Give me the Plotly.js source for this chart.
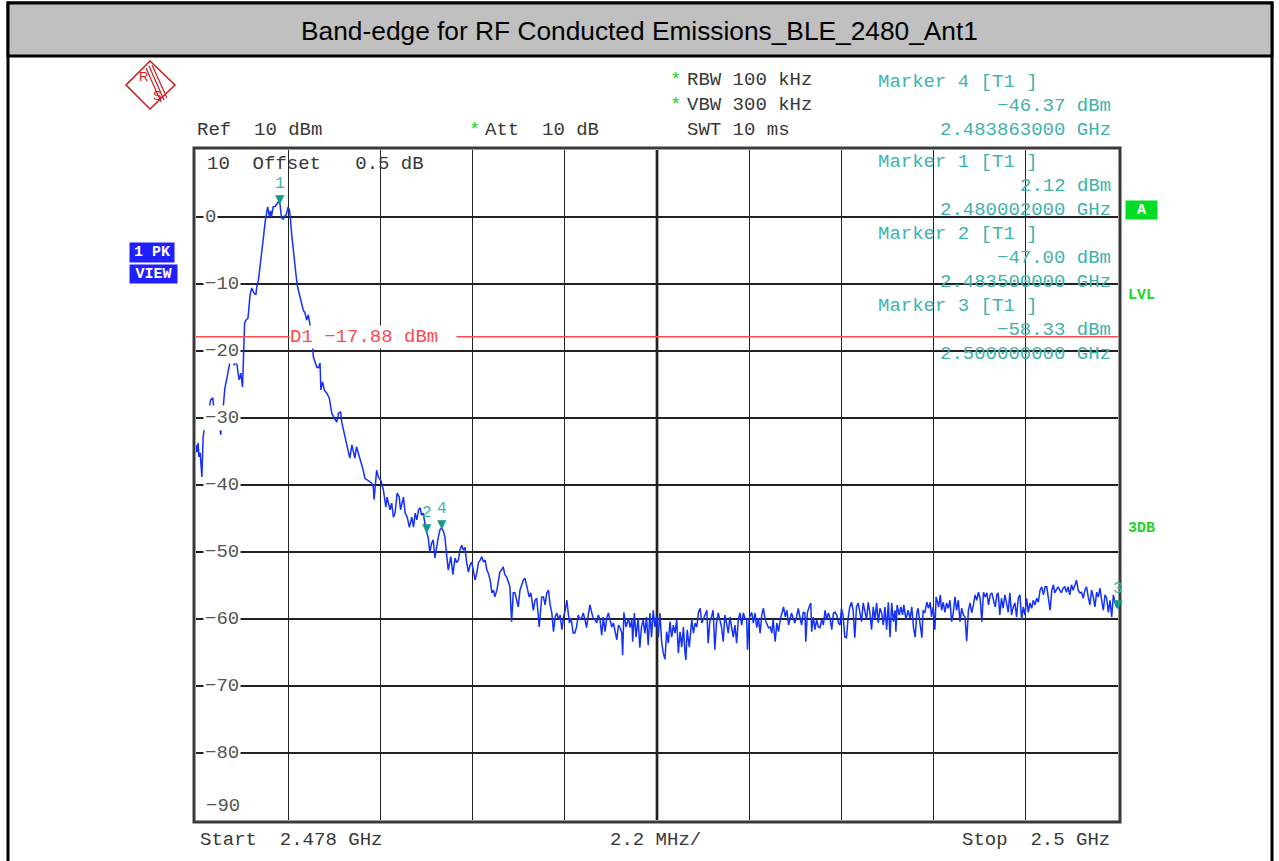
<!DOCTYPE html>
<html><head><meta charset="utf-8">
<script src="https://cdn.plot.ly/plotly-3.0.1.min.js"></script>
<style>html,body{margin:0;padding:0;background:#fff;overflow:hidden}#chart{width:1279px;height:861px}</style>
</head><body><div id="chart"></div>
<script>
// ---- trace data (frequency in MHz, level in dBm) ----
const freqMHz = [
2478.00,2478.02,2478.05,2478.07,2478.10,2478.14,2478.17,2478.24,2478.29,2478.35,2478.40,2478.43,2478.48,2478.52,2478.59,2478.64,2478.69,2478.73,2478.77,2478.80,2478.85,2478.91,2478.97,2479.00,2479.03,2479.07,2479.11,2479.16,2479.19,2479.24,2479.27,2479.29,2479.33,2479.35,2479.38,2479.43,2479.45,2479.49,2479.53,2479.55,2479.61,2479.65,2479.69,2479.71,2479.75,2479.78,2479.80,2479.84,2479.89,2479.92,2479.96,2480.00,
2480.04,2480.08,2480.11,2480.15,2480.20,2480.23,2480.25,2480.28,2480.32,2480.36,2480.40,2480.43,2480.48,2480.52,2480.56,2480.60,2480.64,2480.68,2480.72,2480.76,2480.80,2480.84,2480.88,2480.92,2480.96,2480.98,2481.02,2481.06,2481.12,2481.18,2481.24,2481.29,2481.36,2481.40,2481.45,2481.48,2481.53,2481.58,2481.63,2481.67,2481.72,2481.75,2481.79,2481.83,2481.90,2481.95,2481.99,2482.03,2482.11,2482.19,2482.23,2482.25,2482.31,2482.35,2482.41,2482.47,2482.53,2482.56,2482.63,2482.67,2482.71,2482.75,2482.80,2482.85,2482.88,2482.95,2482.99,2483.04,2483.09,2483.15,2483.19,2483.23,2483.27,2483.31,2483.35,2483.38,2483.42,2483.46,2483.50,
2483.54,2483.58,2483.62,2483.66,2483.70,2483.74,2483.77,2483.82,2483.86,2483.91,2483.94,2483.98,2484.02,2484.08,2484.13,2484.18,2484.22,2484.26,2484.30,2484.34,2484.38,2484.42,2484.45,2484.50,2484.54,2484.58,2484.62,2484.66,2484.70,2484.74,2484.78,2484.82,2484.86,2484.90,2484.94,2484.97,2485.02,2485.06,2485.10,2485.13,2485.18,2485.21,2485.25,2485.29,2485.33,2485.37,2485.41,2485.46,2485.49,2485.53,2485.57,2485.61,2485.65,2485.69,2485.73,2485.77,2485.81,2485.85,2485.89,2485.93,2485.95,2485.99,2486.05,2486.09,2486.13,2486.17,2486.19,2486.25,2486.29,2486.33,2486.37,2486.41,2486.45,2486.49,2486.53,2486.57,2486.61,2486.65,2486.69,2486.73,2486.77,2486.81,2486.85,2486.88,2486.91,2486.95,
2487.00,2487.04,2487.08,2487.12,2487.16,2487.21,2487.24,2487.28,2487.32,2487.36,2487.40,2487.44,2487.48,2487.52,2487.56,2487.60,2487.64,2487.68,2487.72,2487.76,2487.80,2487.84,2487.88,2487.92,2487.96,2488.00,2488.04,2488.08,2488.12,2488.16,2488.18,2488.21,2488.26,2488.32,2488.36,2488.40,2488.42,2488.46,2488.50,2488.55,2488.59,2488.63,2488.67,2488.71,2488.75,2488.79,2488.83,2488.87,2488.91,2488.95,2488.99,2489.03,2489.07,2489.11,2489.15,2489.19,2489.23,2489.27,2489.31,2489.35,2489.39,2489.43,2489.47,2489.51,2489.55,2489.59,2489.63,2489.67,2489.69,2489.72,2489.77,2489.83,2489.87,2489.91,2489.95,2489.99,
2490.03,2490.07,2490.10,2490.15,2490.19,2490.22,2490.26,2490.30,2490.34,2490.38,2490.42,2490.46,2490.50,2490.54,2490.58,2490.62,2490.66,2490.70,2490.74,2490.78,2490.82,2490.86,2490.90,2490.94,2490.98,2491.02,2491.06,2491.10,2491.14,2491.16,2491.20,2491.26,2491.30,2491.34,2491.38,2491.42,2491.46,2491.50,2491.54,2491.58,2491.62,2491.66,2491.70,2491.74,2491.77,2491.82,2491.86,2491.90,2491.94,2491.98,
2492.02,2492.06,2492.10,2492.14,2492.17,2492.21,2492.25,2492.29,2492.33,2492.37,2492.41,2492.45,2492.49,2492.53,2492.55,2492.59,2492.63,2492.67,2492.69,2492.73,2492.77,2492.81,2492.85,2492.89,2492.93,2492.97,2493.01,2493.05,2493.09,2493.13,2493.17,2493.21,2493.25,2493.29,2493.33,2493.37,2493.40,2493.44,2493.48,2493.52,2493.56,2493.60,2493.64,2493.68,2493.72,2493.76,2493.80,2493.84,2493.88,2493.92,2493.96,2494.00,2494.04,2494.08,2494.12,2494.16,2494.20,2494.24,2494.28,2494.32,2494.36,2494.40,2494.44,2494.48,2494.52,2494.56,2494.60,2494.64,2494.68,2494.70,2494.73,2494.78,2494.82,2494.86,2494.89,2494.94,2494.99,
2495.04,2495.08,2495.12,2495.16,2495.20,2495.23,2495.28,2495.32,2495.35,2495.39,2495.44,2495.48,2495.52,2495.55,2495.59,2495.63,2495.66,2495.72,2495.76,2495.79,2495.83,2495.87,2495.91,2495.95,2495.99,2496.03,2496.07,2496.11,2496.15,2496.19,2496.23,2496.27,2496.31,2496.35,2496.39,2496.43,2496.47,2496.51,2496.55,2496.59,2496.63,2496.67,2496.71,2496.75,2496.79,2496.83,2496.87,2496.91,2496.95,2496.99,
2497.03,2497.07,2497.11,2497.14,2497.18,2497.22,2497.26,2497.30,2497.34,2497.38,2497.42,2497.46,2497.50,2497.54,2497.58,2497.62,2497.66,2497.70,2497.74,2497.78,2497.82,2497.86,2497.90,2497.94,2497.98,2498.02,2498.06,2498.10,2498.14,2498.18,2498.22,2498.26,2498.30,2498.34,2498.38,2498.42,2498.46,2498.49,2498.53,2498.57,2498.61,2498.65,2498.69,2498.73,2498.77,2498.81,2498.85,2498.89,2498.93,2498.97,2499.01,2499.05,2499.09,2499.13,2499.17,2499.21,2499.25,2499.29,2499.33,2499.37,2499.41,2499.45,2499.49,2499.53,2499.57,2499.61,2499.65,2499.69,2499.73,2499.77,2499.81,2499.85,2499.89,2499.93,2499.97,2500.00
];
const levelDbm = [
-34.0,-35.1,-33.7,-35.8,-35.2,-38.8,-32.8,-30.0,-29.3,-27.3,-27.0,-28.8,-28.4,-29.3,-32.5,-29.3,-25.5,-24.3,-22.8,-21.6,-20.3,-22.1,-21.6,-23.1,-24.3,-23.3,-25.4,-15.8,-15.4,-15.1,-12.8,-11.6,-10.6,-10.9,-11.3,-11.6,-10.4,-9.4,-6.9,-5.7,-3.0,-0.7,1.0,1.5,0.1,0.9,0.0,1.5,1.6,1.8,2.2,2.1,
-0.1,-0.3,0.1,0.3,1.5,1.0,0.0,-2.4,-4.9,-7.9,-9.4,-10.6,-11.8,-12.8,-13.9,-14.3,-15.4,-14.6,-16.1,-16.9,-20.9,-21.6,-22.4,-22.5,-21.8,-25.8,-24.6,-25.8,-26.3,-27.0,-29.3,-29.9,-30.6,-29.3,-29.1,-30.7,-32.1,-33.7,-34.8,-36.0,-34.0,-34.8,-36.0,-34.3,-35.8,-36.6,-37.8,-39.0,-39.3,-39.7,-40.3,-42.2,-37.8,-38.8,-39.3,-40.7,-43.3,-41.8,-43.7,-42.7,-44.8,-44.2,-41.2,-41.8,-43.7,-41.8,-44.2,-44.8,-46.3,-44.8,-46.3,-44.2,-45.2,-43.7,-43.4,-44.5,-44.2,-46.0,-47.0,
-47.8,-50.1,-48.7,-48.2,-50.9,-49.0,-48.2,-46.7,-46.4,-47.0,-47.8,-50.4,-52.7,-50.7,-53.4,-50.9,-51.6,-51.2,-49.7,-49.0,-49.7,-49.3,-51.2,-53.0,-51.9,-51.5,-53.0,-54.2,-53.1,-51.6,-51.2,-50.7,-51.5,-51.2,-52.7,-53.1,-54.2,-56.1,-55.7,-56.7,-55.7,-54.2,-53.0,-52.7,-52.2,-53.4,-53.7,-54.6,-55.2,-60.4,-56.1,-56.1,-57.2,-58.2,-55.7,-54.9,-54.2,-53.9,-54.9,-56.1,-56.7,-56.1,-58.7,-57.2,-56.9,-59.7,-61.2,-56.7,-56.7,-57.9,-56.1,-55.7,-57.9,-59.1,-61.9,-59.7,-59.1,-60.1,-59.4,-61.6,-59.7,-58.7,-57.2,-59.0,-60.6,-59.9,
-62.1,-62.1,-61.2,-59.4,-60.1,-59.7,-59.1,-60.1,-61.3,-59.4,-57.9,-59.0,-59.9,-60.1,-60.6,-59.4,-60.1,-62.4,-59.7,-61.9,-59.9,-59.1,-60.1,-61.2,-60.6,-61.9,-63.1,-60.9,-61.3,-62.1,-65.4,-59.0,-61.2,-59.9,-61.3,-60.1,-63.4,-59.1,-62.7,-59.9,-64.3,-61.2,-60.1,-62.1,-59.7,-63.9,-59.1,-62.7,-58.7,-61.2,-59.7,-62.7,-59.1,-63.4,-65.1,-66.0,-61.9,-63.6,-60.4,-62.7,-60.9,-62.1,-60.1,-65.1,-61.9,-64.2,-61.2,-65.1,-66.1,-61.6,-64.2,-60.1,-62.1,-60.6,-61.2,-59.0,
-58.4,-60.6,-60.1,-59.1,-58.7,-63.6,-60.4,-59.7,-58.7,-64.6,-60.6,-59.1,-60.4,-61.2,-63.4,-59.4,-60.6,-62.1,-59.7,-61.2,-62.7,-60.9,-63.6,-60.1,-59.1,-60.9,-59.1,-59.9,-60.1,-64.6,-59.9,-59.0,-60.6,-59.1,-61.3,-59.9,-62.1,-59.4,-58.4,-60.1,-60.6,-61.3,-61.2,-62.1,-60.1,-63.4,-60.6,-61.9,-60.1,-59.1,
-58.2,-59.7,-58.7,-60.9,-60.1,-59.1,-59.9,-60.6,-59.7,-58.4,-59.7,-60.9,-59.0,-59.1,-63.4,-59.0,-58.2,-57.6,-61.9,-59.7,-61.6,-60.1,-61.2,-61.3,-60.1,-60.9,-58.7,-60.1,-59.1,-59.9,-61.6,-59.1,-59.0,-59.4,-60.6,-60.9,-58.4,-59.4,-62.7,-62.8,-59.9,-58.2,-57.5,-58.7,-62.8,-58.2,-57.6,-59.4,-60.4,-57.6,-58.7,-60.1,-57.5,-59.1,-61.6,-58.2,-60.1,-57.6,-60.6,-58.4,-59.1,-60.9,-58.2,-61.6,-57.5,-62.7,-57.6,-60.4,-58.7,-61.9,-57.9,-59.4,-58.2,-59.4,-57.9,-60.1,-58.7,
-59.9,-58.2,-61.3,-62.7,-59.1,-58.4,-61.2,-62.8,-58.7,-59.1,-57.5,-58.4,-57.5,-59.7,-58.2,-61.6,-56.7,-58.2,-56.4,-58.7,-57.5,-59.0,-57.6,-58.4,-57.2,-60.4,-59.1,-56.7,-58.7,-57.2,-60.4,-58.4,-59.4,-59.7,-63.3,-58.7,-57.6,-59.1,-57.9,-56.4,-57.2,-56.0,-56.9,-60.4,-56.0,-56.7,-56.1,-57.9,-56.4,-56.1,
-57.2,-58.2,-56.4,-56.1,-59.4,-56.9,-58.4,-56.4,-57.6,-59.0,-56.1,-59.4,-58.2,-57.6,-59.7,-56.9,-56.4,-60.1,-58.2,-59.4,-56.9,-59.0,-57.6,-58.4,-57.2,-57.9,-56.9,-57.5,-55.7,-55.2,-56.4,-55.2,-55.2,-56.9,-58.7,-55.7,-54.9,-56.1,-55.7,-55.2,-55.7,-56.1,-55.4,-55.2,-56.0,-55.2,-56.4,-54.9,-55.7,-54.9,-54.2,-55.7,-56.1,-56.0,-56.9,-55.7,-55.2,-56.7,-57.9,-55.7,-56.7,-58.2,-56.0,-56.7,-55.4,-57.2,-58.7,-56.4,-56.9,-59.0,-57.2,-59.7,-56.4,-57.6,-58.2,-58.3
];

// ---- axes / scale ----
const startMHz = 2478, stopMHz = 2500, spanPerDivMHz = 2.2;
const refLevel = 10, bottomLevel = -90, dbPerDiv = 10;
const yTickVals = [0, -10, -20, -30, -40, -50, -60, -70, -80];
const yTickText = ['0', '−10', '−20', '−30', '−40', '−50', '−60', '−70', '−80'];

// ---- markers ----
const markerIds = ['4', '1', '2', '3'];
const markerFreqMHz = [2483.863, 2480.002, 2483.5, 2500.0];
const markerLevel = [-46.37, 2.12, -47.00, -58.33];
const displayLineD1 = -17.88;

// ---- page geometry helpers (page px -> paper) ----
const L = 196, T = 150, W = 922, H = 670;
const px = x => (x - L) / W;
const py = y => (T + H - y) / H;
const MONO = 'Liberation Mono, Courier New, monospace';
const NB = '\u00a0';
const sp = s => s.replace(/ /g, NB);
const TEAL = '#3fb3ab';
const GREEN = '#1ed41e';
const RED_LOGO = '#cc1818';

function txt(x, y, text, o) {
  o = o || {};
  return {xref: 'paper', yref: 'paper', x: px(x), y: py(y), text: sp(text), showarrow: false,
    xanchor: o.anchor || 'left', yanchor: 'middle', borderpad: 0,
    font: {family: o.family || MONO, size: o.size || 19, color: o.color || '#383838'}};
}
function box(cx, cy, w, h, text, bg) {
  return {xref: 'paper', yref: 'paper', x: px(cx), y: py(cy), xanchor: 'center', yanchor: 'middle',
    text: '<b>' + sp(text) + '</b>', showarrow: false, width: w, height: h, bgcolor: bg, borderpad: 0,
    font: {family: MONO, size: 15, color: '#fff'}};
}

const ann = [];
// header
ann.push(txt(675, 80, '*', {anchor: 'center', color: GREEN}));
ann.push(txt(686, 80, 'RBW 100 kHz'));
ann.push(txt(675, 105, '*', {anchor: 'center', color: GREEN}));
ann.push(txt(686, 105, 'VBW 300 kHz'));
ann.push(txt(196, 130, 'Ref  ' + refLevel + ' dBm'));
ann.push(txt(474, 130, '*', {anchor: 'center', color: GREEN}));
ann.push(txt(484, 130, 'Att  10 dB'));
ann.push(txt(686, 130, 'SWT 10 ms'));
ann.push(txt(206, 164, refLevel + '  Offset   0.5 dB'));
// marker info blocks
const infoTop = [82, 162, 234, 306];
markerIds.forEach((id, i) => {
  const y0 = infoTop[i];
  ann.push(txt(877, y0, 'Marker ' + id + ' [T1 ]', {color: TEAL}));
  ann.push(txt(1112, y0 + 24, markerLevel[i].toFixed(2).replace('-', '−') + ' dBm', {color: TEAL, anchor: 'right'}));
  ann.push(txt(1112, y0 + 48, (markerFreqMHz[i] / 1000).toFixed(9) + ' GHz', {color: TEAL, anchor: 'right'}));
});
// y tick labels with white background (break the grid line)
yTickVals.forEach((v, i) => {
  ann.push({xref: 'paper', yref: 'y', x: px(203), y: v, text: yTickText[i], showarrow: false,
    xanchor: 'left', yanchor: 'middle', bgcolor: '#ffffff', borderpad: 1,
    font: {family: MONO, size: 19, color: '#555'}});
});
ann.push(txt(205, 806, '−90', {color: '#555'}));
// bottom labels
ann.push(txt(199, 840, 'Start  ' + (startMHz / 1000).toFixed(3) + ' GHz'));
ann.push(txt(609, 840, spanPerDivMHz + ' MHz/'));
ann.push(txt(1111, 840, 'Stop  ' + (stopMHz / 1000).toFixed(1) + ' GHz', {anchor: 'right'}));
// display line label
ann.push({xref: 'paper', yref: 'y', x: px(289), y: displayLineD1, text: sp('D1 ' + displayLineD1.toFixed(2).replace('-', '−') + ' dBm'),
  showarrow: false, xanchor: 'left', yanchor: 'middle', bgcolor: '#ffffff', borderpad: 0, width: 166, align: 'left',
  font: {family: MONO, size: 19, color: '#ff4a4a'}});
// marker triangles + numbers
markerIds.forEach((id, i) => {
  ann.push({xref: 'x', yref: 'y', x: markerFreqMHz[i], y: markerLevel[i], text: '▼', showarrow: false,
    xanchor: 'center', yanchor: 'bottom', yshift: -4, borderpad: 0,
    font: {family: 'DejaVu Sans', size: 12, color: '#12998e'}});
  ann.push({xref: 'x', yref: 'y', x: markerFreqMHz[i], y: markerLevel[i], text: id, showarrow: false,
    xanchor: 'center', yanchor: 'bottom', yshift: 9, borderpad: 0,
    font: {family: MONO, size: 16, color: TEAL}});
});
// side boxes
ann.push(box(152, 252.5, 44, 19, '1 PK', '#1f1fff'));
ann.push(box(153.5, 274, 47, 18, 'VIEW', '#1f1fff'));
ann.push(box(1141.5, 210, 31, 18, 'A', '#00dd22'));
ann.push(txt(1127, 295, '<b>LVL</b>', {size: 15, color: GREEN}));
ann.push(txt(1127, 528, '<b>3DB</b>', {size: 15, color: GREEN}));
// logo letters
ann.push(txt(143, 76, 'R', {anchor: 'center', size: 13, color: RED_LOGO, family: 'Liberation Sans'}));
ann.push(txt(157, 95, 'S', {anchor: 'center', size: 13, color: RED_LOGO, family: 'Liberation Sans'}));

const P = (x, y) => px(x) + ',' + py(y);
const shapes = [
  // outer page border
  {type: 'rect', xref: 'paper', yref: 'paper', x0: px(8), x1: px(1272), y0: py(880), y1: py(3), line: {color: '#000', width: 3}, layer: 'below'},
  // title band
  {type: 'rect', xref: 'paper', yref: 'paper', x0: px(8), x1: px(1272), y0: py(56), y1: py(3), fillcolor: '#c0c0c0', line: {color: '#000', width: 3}, layer: 'below'},
  // plot frame
  {type: 'rect', xref: 'paper', yref: 'paper', x0: px(194), x1: px(1120), y0: py(822), y1: py(148), line: {color: '#3a3a3a', width: 3}},
  // centre graticule line
  {type: 'line', xref: 'x', yref: 'paper', x0: startMHz + 5 * spanPerDivMHz, x1: startMHz + 5 * spanPerDivMHz, y0: 0, y1: 1, line: {color: '#666', width: 3}, layer: 'below'},
  // display line D1
  {type: 'line', xref: 'paper', yref: 'y', x0: 0, x1: 1, y0: displayLineD1, y1: displayLineD1, line: {color: '#ff4a4a', width: 1.5}},
  // logo
  {type: 'path', xref: 'paper', yref: 'paper', path: 'M' + P(150, 61) + 'L' + P(175, 85) + 'L' + P(150, 109) + 'L' + P(126, 85) + 'Z', line: {color: RED_LOGO, width: 1.5}},
  {type: 'path', xref: 'paper', yref: 'paper', path: 'M' + P(146, 68) + 'L' + P(161, 102), line: {color: RED_LOGO, width: 1.2}},
  {type: 'path', xref: 'paper', yref: 'paper', path: 'M' + P(149, 66) + 'L' + P(164, 100), line: {color: RED_LOGO, width: 1.2}},
  {type: 'path', xref: 'paper', yref: 'paper', path: 'M' + P(152, 65) + 'L' + P(167, 98), line: {color: RED_LOGO, width: 1.2}}
];

const data = [{
  type: 'scatter', mode: 'lines', x: freqMHz, y: levelDbm,
  line: {color: '#1430ff', width: 1.5}, hoverinfo: 'skip', showlegend: false
}];

const axisBase = {showgrid: true, gridcolor: '#222', gridwidth: 1.3, zeroline: false, showline: false,
  showticklabels: false, ticks: '', fixedrange: true};

const layout = {
  width: 1279, height: 861,
  margin: {l: 196, r: 161, t: 150, b: 41, pad: 0},
  paper_bgcolor: '#ffffff', plot_bgcolor: '#ffffff',
  showlegend: false,
  title: {text: 'Band-edge for RF Conducted Emissions_BLE_2480_Ant1', xref: 'container', yref: 'container',
    x: 0.5, y: 1 - 31 / 861, xanchor: 'center', yanchor: 'middle',
    font: {family: 'Liberation Sans, Arial, sans-serif', size: 26.3, color: '#000'}},
  xaxis: Object.assign({range: [startMHz, stopMHz], tick0: startMHz, dtick: spanPerDivMHz}, axisBase),
  yaxis: Object.assign({range: [bottomLevel, refLevel], tick0: 0, dtick: dbPerDiv}, axisBase),
  annotations: ann,
  shapes: shapes
};

Plotly.newPlot('chart', data, layout, {staticPlot: true, displayModeBar: false});
</script>
</body></html>
